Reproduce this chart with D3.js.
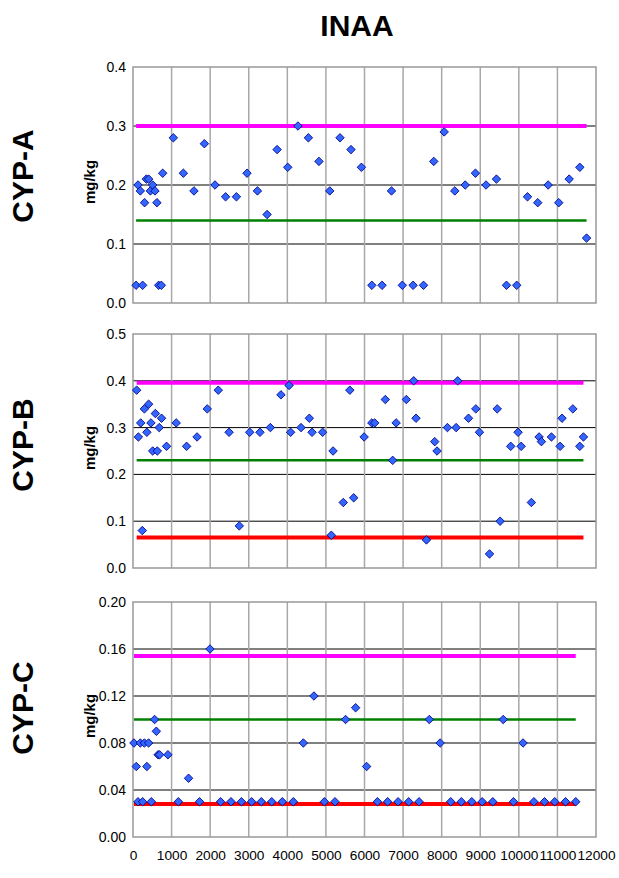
<!DOCTYPE html>
<html><head><meta charset="utf-8">
<script src="https://cdn.jsdelivr.net/npm/d3@7"></script>
<style>body{margin:0;background:#fff;}svg{display:block;font-family:Arial,"Liberation Sans",sans-serif;}</style>
</head><body>
<script>
// ---- Data ----
const xTicks = [0,1000,2000,3000,4000,5000,6000,7000,8000,9000,10000,11000,12000];
const xTickLabels = ["0","1000","2000","3000","4000","5000","6000","7000","8000","9000","10000","11000","12000"];

const cypA_x = [80,130,190,250,300,345,405,450,510,570,620,665,735,770,1045,1305,1580,1850,2125,2400,2680,2955,3225,3475,3735,4010,4275,4545,4820,5100,5365,5650,5920,6190,6455,6700,6980,7260,7530,7795,8065,8340,8610,8875,9150,9420,9680,9945,10225,10490,10760,11035,11305,11580,11755];
const cypA_y = [0.03,0.20,0.19,0.03,0.17,0.21,0.21,0.19,0.20,0.19,0.17,0.03,0.03,0.22,0.28,0.22,0.19,0.27,0.20,0.18,0.18,0.22,0.19,0.15,0.26,0.23,0.30,0.28,0.24,0.19,0.28,0.26,0.23,0.03,0.03,0.19,0.03,0.03,0.03,0.24,0.29,0.19,0.20,0.22,0.20,0.21,0.03,0.03,0.18,0.17,0.20,0.17,0.21,0.23,0.11];
const cypA_ticks = [0,0.1,0.2,0.3,0.4];
const cypA_refs = [["#ff00ff",0.30],["#008000",0.14]];

const cypB_x = [95,140,200,240,295,360,405,465,510,580,630,680,740,870,1120,1390,1660,1925,2210,2490,2755,3025,3290,3560,3835,4045,4085,4355,4570,4640,4915,5185,5140,5450,5620,5720,5990,6190,6265,6540,6730,6820,7085,7275,7335,7605,7820,7880,8150,8375,8415,8695,8885,8980,9240,9440,9515,9790,9980,10060,10325,10525,10585,10845,11070,11120,11400,11580,11675];
const cypB_y = [0.38,0.28,0.31,0.08,0.34,0.29,0.35,0.31,0.25,0.33,0.25,0.30,0.32,0.26,0.31,0.26,0.28,0.34,0.38,0.29,0.09,0.29,0.29,0.30,0.37,0.39,0.29,0.30,0.32,0.29,0.29,0.25,0.07,0.14,0.38,0.15,0.28,0.31,0.31,0.36,0.23,0.31,0.36,0.40,0.32,0.06,0.27,0.25,0.30,0.30,0.40,0.32,0.34,0.29,0.03,0.34,0.10,0.26,0.29,0.26,0.14,0.28,0.27,0.28,0.26,0.32,0.34,0.26,0.28];
const cypB_ticks = [0,0.1,0.2,0.3,0.4,0.5];
const cypB_refs = [["#ff00ff",0.396],["#008000",0.23],["#ff0000",0.065]];

const cypC_x = [25,85,130,190,250,295,360,405,475,560,605,650,690,905,1175,1440,1725,1995,2270,2540,2810,3075,3325,3595,3870,4155,4415,4690,4960,5235,5510,5770,6055,6335,6600,6870,7145,7415,7680,7960,8235,8510,8780,9050,9325,9595,9860,10110,10390,10665,10930,11210,11475];
const cypC_y = [0.08,0.06,0.03,0.08,0.03,0.08,0.06,0.08,0.03,0.10,0.09,0.07,0.07,0.07,0.03,0.05,0.03,0.16,0.03,0.03,0.03,0.03,0.03,0.03,0.03,0.03,0.08,0.12,0.03,0.03,0.10,0.11,0.06,0.03,0.03,0.03,0.03,0.03,0.10,0.08,0.03,0.03,0.03,0.03,0.03,0.10,0.03,0.08,0.03,0.03,0.03,0.03,0.03];
const cypC_ticks = [0,0.04,0.08,0.12,0.16,0.20];
const cypC_refs = [["#ff00ff",0.154],["#008000",0.10],["#ff0000",0.028]];

const panels = [
  {name:"CYP-A", xs:cypA_x, ys:cypA_y, ticks:cypA_ticks, refs:cypA_refs, max:0.4, fmt:".1f", top:67, bottom:303, labelY:176, unitY:182},
  {name:"CYP-B", xs:cypB_x, ys:cypB_y, ticks:cypB_ticks, refs:cypB_refs, max:0.5, fmt:".1f", top:334, bottom:568, labelY:445, unitY:448},
  {name:"CYP-C", xs:cypC_x, ys:cypC_y, ticks:cypC_ticks, refs:cypC_refs, max:0.2, fmt:".2f", top:602, bottom:837, labelY:708, unitY:716}
];

const W = 619, H = 878, left = 133, right = 596;
const svg = d3.select("body").append("svg").attr("width",W).attr("height",H);

svg.append("text").attr("x",357).attr("y",36).attr("text-anchor","middle")
  .attr("font-size",30).attr("font-weight","bold").text("INAA");

const x = d3.scaleLinear().domain([0,12000]).range([left,right]);

panels.forEach((p,i)=>{
  const y = d3.scaleLinear().domain([0,p.max]).range([p.bottom,p.top]);
  const g = svg.append("g");
  // horizontal gridlines
  g.selectAll(".hg").data(p.ticks.filter(t=>t>0 && t<p.max-1e-9)).enter().append("line")
    .attr("x1",left).attr("x2",right).attr("y1",d=>y(d)).attr("y2",d=>y(d))
    .attr("stroke","#000").attr("stroke-width",1);
  // vertical gridlines
  g.selectAll(".vg").data(xTicks.slice(1,-1)).enter().append("line")
    .attr("x1",d=>x(d)).attr("x2",d=>x(d)).attr("y1",p.top).attr("y2",p.bottom)
    .attr("stroke","#a8a8a8").attr("stroke-width",1.5);
  // border
  g.append("rect").attr("x",left).attr("y",p.top).attr("width",right-left).attr("height",p.bottom-p.top)
    .attr("fill","none").attr("stroke","#999").attr("stroke-width",1.5);
  // y axis
  const ya = d3.axisLeft(y).tickValues(p.ticks).tickFormat(d3.format(p.fmt)).tickSize(0).tickPadding(7);
  const yg = g.append("g").attr("transform",`translate(${left},0)`).call(ya);
  yg.select(".domain").remove();
  yg.selectAll("text").attr("font-size",14).attr("font-family","Arial, 'Liberation Sans', sans-serif").attr("fill","#000");
  // reference lines
  const xmin = d3.min(p.xs), xmax = d3.max(p.xs);
  p.refs.forEach(([c,v])=>{
    g.append("line").attr("x1",x(xmin)).attr("x2",x(xmax)).attr("y1",y(v)).attr("y2",y(v))
      .attr("stroke",c).attr("stroke-width",c==="#008000"?2.5:4);
  });
  // points
  g.selectAll(".pt").data(p.xs.map((v,k)=>[v,p.ys[k]])).enter().append("path")
    .attr("d", d3.symbol().type(d3.symbolSquare).size(36))
    .attr("transform",d=>`translate(${x(d[0])},${y(d[1])}) rotate(45)`)
    .attr("fill","#3366ff").attr("stroke","#000080").attr("stroke-width",0.8);
  // labels
  svg.append("text").attr("transform",`translate(33,${p.labelY}) rotate(-90)`).attr("text-anchor","middle")
    .attr("font-size",30).attr("font-weight","bold").text(p.name);
  svg.append("text").attr("transform",`translate(95,${p.unitY}) rotate(-90)`).attr("text-anchor","middle")
    .attr("font-size",15).attr("font-weight","bold").text("mg/kg");
  if(i===2){
    const xa = d3.axisBottom(x).tickValues(xTicks).tickFormat((d,k)=>xTickLabels[k]).tickSize(0).tickPadding(13);
    const xg = svg.append("g").attr("transform",`translate(0,${p.bottom})`).call(xa);
    xg.select(".domain").remove();
    xg.selectAll("text").attr("font-size",13.7).attr("font-family","Arial, 'Liberation Sans', sans-serif").attr("fill","#000");
  }
});
</script>
</body></html>
